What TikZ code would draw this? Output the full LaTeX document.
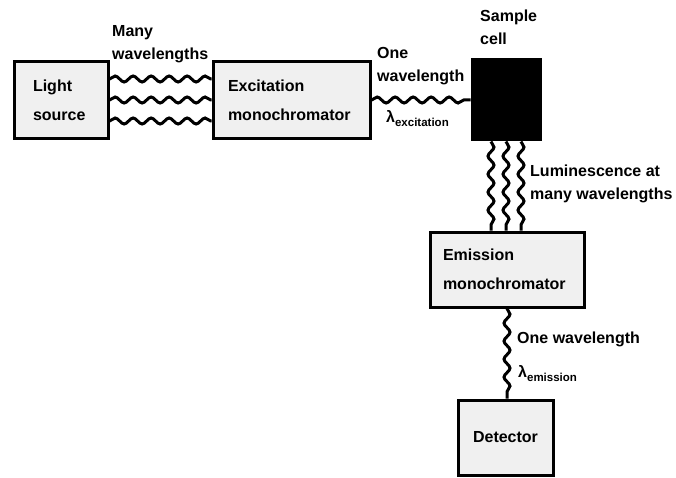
\documentclass[tikz,border=0pt]{standalone}
\usepackage{fontspec}
\setmainfont{Liberation Sans}
\usetikzlibrary{decorations.pathmorphing}

\newcommand{\lamsub}[1]{λ\raisebox{-4pt}{\fontsize{11.5}{12}\selectfont #1}}

\begin{document}
\begin{tikzpicture}[x=1pt,y=-1pt,
  box/.style={draw,line width=3pt,fill=gray!12,inner sep=0pt,align=left,
    font=\bfseries\fontsize{16}{29}\selectfont},
  lbl/.style={anchor=north west,inner sep=0pt,align=left,
    font=\bfseries\fontsize{16}{23}\selectfont},
  wave/.style={line width=3pt,decorate,
    decoration={snake,segment length=18pt,amplitude=3pt}}]
  \useasboundingbox (0,0) rectangle (676,478);
  % boxes
  \node[box,minimum width=94pt,minimum height=77pt,text width=56pt] (light) at (61,100) {Light\\source};
  \node[box,minimum width=157pt,minimum height=77pt,text width=127pt] (exmono) at (291.5,100) {Excitation\\monochromator};
  \node[draw,line width=3pt,fill=black,minimum width=68pt,minimum height=80pt] (cell) at (506,100) {};
  \node[box,minimum width=154pt,minimum height=75pt,text width=128pt] (emmono) at (507,269.5) {Emission\\monochromator};
  \node[box,minimum width=95pt,minimum height=75pt] (det) at (505.5,437.5) {Detector};
  % waves
  \draw[wave] ([yshift=21pt]light.east) -- ([yshift=21pt]light.east -| exmono.west);
  \draw[wave] (light.east) -- (light.east -| exmono.west);
  \draw[wave] ([yshift=-21pt]light.east) -- ([yshift=-21pt]light.east -| exmono.west);
  \draw[wave] (exmono.east) -- (exmono.east -| cell.west);
  \draw[wave] ([xshift=-15pt]cell.south) -- ([xshift=-15pt]cell.south |- emmono.north);
  \draw[wave] (cell.south) -- (cell.south |- emmono.north);
  \draw[wave] ([xshift=15pt]cell.south) -- ([xshift=15pt]cell.south |- emmono.north);
  \draw[wave] (emmono.south) -- (emmono.south |- det.north);
  % labels
  \node[lbl] (many) at (112,25) {Many\\wavelengths};
  \node[lbl] (onex) at (377,47) {One\\wavelength};
  \node[lbl] (lamex) at (386,110) {\lamsub{excitation}};
  \node[lbl] (sample) at (480,10) {Sample\\cell};
  \node[lbl] (lum) at (530,165) {Luminescence at\\many wavelengths};
  \node[lbl] (onem) at (517,332) {One wavelength};
  \node[lbl] (lamem) at (518,365) {\lamsub{emission}};
\end{tikzpicture}
\end{document}
